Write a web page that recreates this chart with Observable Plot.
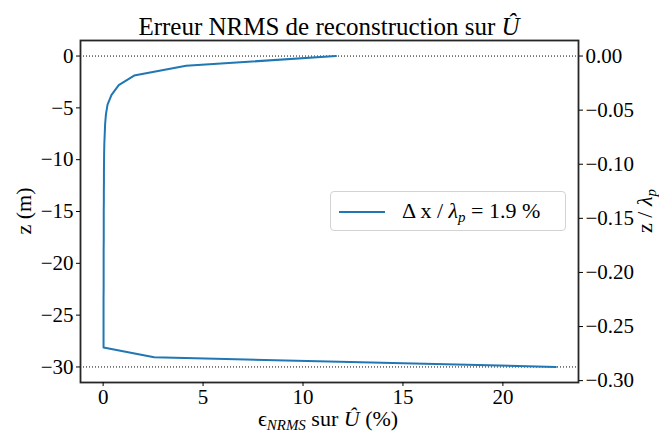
<!DOCTYPE html>
<html>
<head>
<meta charset="utf-8">
<script src="https://cdn.jsdelivr.net/npm/d3@7"></script>
<script src="https://cdn.jsdelivr.net/npm/@observablehq/plot@0.6"></script>
<style>
  body { margin: 0; background: white; }
  #wrap { position: relative; width: 659px; height: 435px; font-family: "Liberation Serif", serif; color: #000; }
  .ov { position: absolute; white-space: nowrap; line-height: 1; }
  #title { left: 329px; top: 26px; transform: translate(-50%, -50%); font-size: 25px; }
  #xlabel { left: 328px; top: 419px; transform: translate(-50%, -50%); font-size: 22px; }
  #ylabel { left: 24px; top: 211px; transform: translate(-50%, -50%) rotate(-90deg); font-size: 22px; }
  #y2label { left: 645px; top: 211px; transform: translate(-50%, -50%) rotate(-90deg); font-size: 22px; }
  #legend { left: 330px; top: 191px; width: 236px; height: 40px; box-sizing: border-box; border: 1px solid #d3d3d3; border-radius: 4px; background: rgba(255,255,255,0.85); }
  #legend .swatch { position: absolute; left: 8px; top: 19px; width: 46px; height: 2px; background: #1f77b4; }
  #legend .txt { position: absolute; left: 71px; top: 8px; font-size: 22px; }
  sub { font-size: 68%; vertical-align: -0.3em; line-height: 0; }
</style>
</head>
<body>
<div id="wrap">
  <div id="chart"></div>
  <div class="ov" id="title">Erreur NRMS de reconstruction sur <i>Û</i></div>
  <div class="ov" id="xlabel"><span>ϵ</span><sub><i>NRMS</i></sub> sur <i>Û</i> (%)</div>
  <div class="ov" id="ylabel">z (m)</div>
  <div class="ov" id="y2label">z / <i>λ</i><sub><i>p</i></sub></div>
  <div class="ov" id="legend"><div class="swatch"></div><div class="txt">Δ x / <i>λ</i><sub><i>p</i></sub> = 1.9 %</div></div>
</div>
<script>
// Depth z (m)
const depth = [0, -0.94, -1.88, -2.81, -3.75, -4.69, -5.63, -6.56, -7.5, -8.44, -9.38,
  -10.31, -11.25, -12.19, -13.13, -14.06, -15, -15.94, -16.88, -17.81, -18.75, -19.69,
  -20.63, -21.56, -22.5, -23.44, -24.38, -25.31, -26.25, -27.19, -28.13, -29.06, -30];
// NRMS error (%)
const nrms = [11.65, 4.15, 1.55, 0.78, 0.42, 0.22, 0.14, 0.1, 0.08, 0.06, 0.05,
  0.045, 0.04, 0.04, 0.035, 0.035, 0.03, 0.03, 0.03, 0.03, 0.025, 0.025,
  0.025, 0.025, 0.025, 0.02, 0.02, 0.02, 0.02, 0.02, 0.02, 2.55, 22.65];
const lambdaP = 104.4;
const xTicks = [0, 5, 10, 15, 20];
const zTicks = [0, -5, -10, -15, -20, -25, -30];
const zRatioTicks = [0, -0.05, -0.10, -0.15, -0.20, -0.25, -0.30];
const refDepths = [0, -30];

const data = depth.map((z, i) => ({z, err: nrms[i]}));
const fmtInt = d3.format("d");
const fmt2 = d3.format(".2f");

const chart = Plot.plot({
  width: 659, height: 435,
  marginLeft: 80, marginRight: 81, marginTop: 40, marginBottom: 53,
  x: {domain: [-1.1325, 23.7825]},
  y: {domain: [-31.5, 1.5]},
  style: {fontFamily: "'Liberation Serif', serif", fontSize: "21px", color: "#000", background: "white", overflow: "visible"},
  marks: [
    Plot.ruleY(refDepths, {stroke: "black", strokeWidth: 1, strokeDasharray: "1,2"}),
    Plot.line(data, {x: "err", y: "z", stroke: "#1f77b4", strokeWidth: 2}),
    Plot.frame({stroke: "#262626", strokeWidth: 1.8}),
    Plot.axisX(xTicks, {tickSize: 4, tickPadding: 3, tickFormat: fmtInt, label: null}),
    Plot.axisY(zTicks, {anchor: "left", tickSize: 4, tickPadding: 3, tickFormat: fmtInt, label: null}),
    Plot.axisY(zRatioTicks.map(v => v * lambdaP), {anchor: "right", tickSize: 4, tickPadding: 3, tickFormat: d => fmt2(d / lambdaP), label: null})
  ]
});
document.getElementById("chart").appendChild(chart);
</script>
</body>
</html>
